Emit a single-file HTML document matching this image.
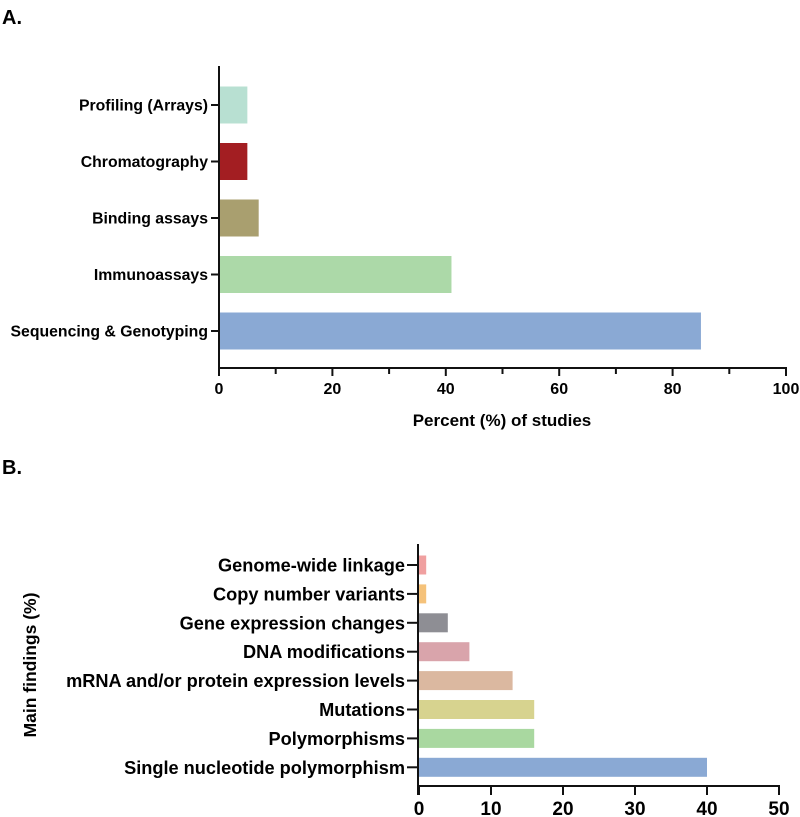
<!DOCTYPE html>
<html><head><meta charset="utf-8"><style>
body{margin:0;background:#fff;}
svg{display:block;font-family:"Liberation Sans",Arial,sans-serif;font-weight:bold;}
</style></head><body>
<svg id="c" width="800" height="817" viewBox="0 0 800 817">
<text x="2" y="24" font-size="20">A.</text>
<text x="2" y="474" font-size="20">B.</text>
<g id="ga"></g>
<g id="gb"></g>
</svg>
<script>
const catsA=["Profiling (Arrays)","Chromatography","Binding assays","Immunoassays","Sequencing & Genotyping"];
const valsA=[5,5,7,41,85];
const colsA=["#b8e0d2","#a31e22","#a99f6f","#acd9a8","#8aa9d4"];
const ticksA=[0,20,40,60,80,100];
const catsB=["Genome-wide linkage","Copy number variants","Gene expression changes","DNA modifications","mRNA and/or protein expression levels","Mutations","Polymorphisms","Single nucleotide polymorphism"];
const valsB=[1,1,4,7,13,16,16,40];
const colsB=["#f0a0a0","#f5c27a","#8e8e94","#d9a4ab","#dbb8a0","#d7d38f","#a9d8a0","#8aa9d4"];
const ticksB=[0,10,20,30,40,50];
const NS="http://www.w3.org/2000/svg";
function mk(p,t,a){const e=document.createElementNS(NS,t);for(const k in a)e.setAttribute(k,a[k]);p.appendChild(e);return e;}
// Chart A
const ga=document.getElementById('ga');
const xA=v=>219+v*(786-219)/100;
const yA=i=>105+i*56.5;
valsA.forEach((v,i)=>{
  const r=mk(ga,'rect',{x:xA(0),y:yA(i)-18.5,width:xA(v)-xA(0),height:37,fill:colsA[i]});
  
  
  mk(ga,'line',{x1:211,x2:219,y1:yA(i),y2:yA(i),stroke:'#111','stroke-width':2});
  const t=mk(ga,'text',{x:208,y:yA(i)+5.5,'font-size':15.8,'text-anchor':'end'});t.textContent=catsA[i];
  
  
});
mk(ga,'line',{x1:219,x2:219,y1:66,y2:369,stroke:'#111','stroke-width':2});
mk(ga,'line',{x1:218,x2:787,y1:368,y2:368,stroke:'#111','stroke-width':2});
for(let v=0;v<=100;v+=10){mk(ga,'line',{x1:xA(v),x2:xA(v),y1:368,y2:v%20?374:376,stroke:'#111','stroke-width':2});}
ticksA.forEach(v=>{const t=mk(ga,'text',{x:xA(v),y:394,'font-size':16,'text-anchor':'middle'});t.textContent=v;
  
  });
const ta=mk(ga,'text',{x:502,y:426,'font-size':17,'text-anchor':'middle'});ta.textContent="Percent (%) of studies";


// Chart B
const gb=document.getElementById('gb');
const xB=v=>419+v*(779-419)/50;
const yB=i=>565+i*28.9;
valsB.forEach((v,i)=>{
  const r=mk(gb,'rect',{x:xB(0),y:yB(i)-9.5,width:xB(v)-xB(0),height:19,fill:colsB[i]});
  
  
  mk(gb,'line',{x1:407,x2:418,y1:yB(i),y2:yB(i),stroke:'#111','stroke-width':2});
  const t=mk(gb,'text',{x:405,y:yB(i)+6.5,'font-size':18.2,'text-anchor':'end'});t.textContent=catsB[i];
  
  
});
mk(gb,'line',{x1:418,x2:418,y1:544,y2:795,stroke:'#111','stroke-width':2});
mk(gb,'line',{x1:417,x2:780,y1:786,y2:786,stroke:'#111','stroke-width':2});
ticksB.forEach(v=>{mk(gb,'line',{x1:xB(v),x2:xB(v),y1:786,y2:795,stroke:'#111','stroke-width':2});
  const t=mk(gb,'text',{x:xB(v),y:815,'font-size':19,'text-anchor':'middle'});t.textContent=v;
  
  });
const tb=mk(gb,'text',{x:0,y:0,'font-size':17.5,'text-anchor':'middle',transform:'translate(36,665) rotate(-90)'});tb.textContent="Main findings (%)";


</script>
</body></html>
